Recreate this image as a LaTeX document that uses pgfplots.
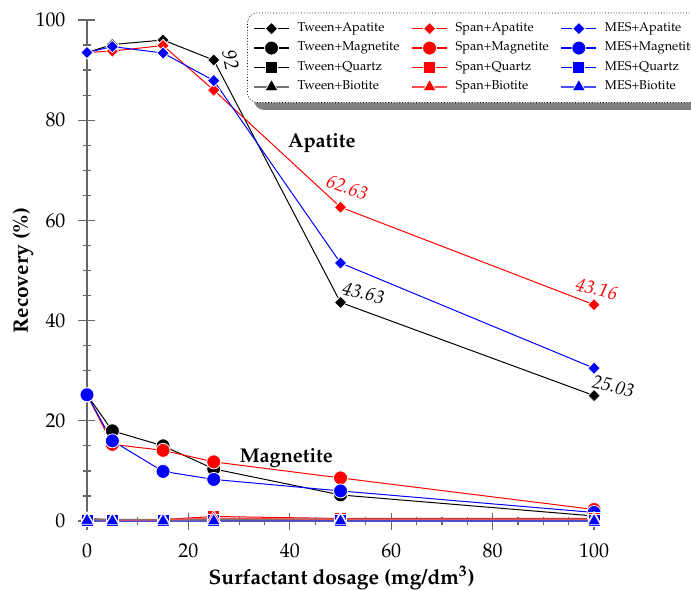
\documentclass[border=0pt]{standalone}
\usepackage[T1]{fontenc}
\usepackage{mathpazo}
\usepackage{pgfplots}
\pgfplotsset{compat=1.18}

\pgfplotstableread{
x  y
0   93.5
5   95.1
15  96.0
25  92.0
50  43.63
100 25.03
}\tweenapa
\pgfplotstableread{
x  y
0   93.5
5   93.8
15  94.9
25  86.0
50  62.63
100 43.16
}\spanapa
\pgfplotstableread{
x  y
0   93.5
5   94.7
15  93.4
25  87.9
50  51.5
100 30.5
}\mesapa
\pgfplotstableread{
x  y
0   25.2
5   18.0
15  15.0
25  10.4
50  5.2
100 1.0
}\tweenmag
\pgfplotstableread{
x  y
0   25.2
5   15.3
15  14.1
25  11.8
50  8.6
100 2.3
}\spanmag
\pgfplotstableread{
x  y
0   25.2
5   16.0
15  9.9
25  8.3
50  6.0
100 1.7
}\mesmag
\pgfplotstableread{
x  y
0   0.5
5   0.2
15  0.2
25  0.4
50  0.3
100 0.3
}\tweenqua
\pgfplotstableread{
x  y
0   0.3
5   0.2
15  0.3
25  0.9
50  0.5
100 0.5
}\spanqua
\pgfplotstableread{
x  y
0   0.2
5   0.1
15  0.1
25  0.2
50  0.1
100 0.1
}\mesqua
\pgfplotstableread{
x  y
0   0.3
5   0.2
15  0.2
25  0.3
50  0.3
100 0.3
}\tweenbio
\pgfplotstableread{
x  y
0   0.2
5   0.1
15  0.2
25  0.6
50  0.3
100 0.3
}\spanbio
\pgfplotstableread{
x  y
0   0.1
5   0.0
15  0.0
25  0.0
50  0.0
100 0.0
}\mesbio

\begin{document}
\begin{tikzpicture}
% legend shadow (behind the legend box)
\fill[black!50, rounded corners=5bp] (83.5bp,205.5bp) rectangle (330bp,240bp);
\begin{axis}[
  scale only axis, width=254.8bp, height=250.5bp,
  xmin=0, xmax=100.5, ymin=0, ymax=100,
  axis x line=bottom, axis y line=left,
  axis line style={-, draw=black!60, line width=0.7bp},
  xtick={0,20,...,100}, ytick={0,20,...,100},
  minor x tick num=3, minor y tick num=3,
  tick align=center, major tick length=8.5bp, minor tick length=4bp,
  tick style={black!60, line width=0.6bp},
  clip=false,
  ticklabel style={font=\fontsize{10}{12}\selectfont},
  xticklabel style={yshift=-3.5bp},
  yticklabel style={xshift=-3bp},
  xlabel={\textbf{Surfactant dosage (mg/dm\textsuperscript{3})}},
  ylabel={\textbf{Recovery (\%)}},
  label style={font=\fontsize{10.5}{12}\selectfont},
  x label style={at={([yshift=-28.5bp]axis description cs:0.5,0)}, anchor=center},
  y label style={at={([xshift=-32bp]axis description cs:0,0.5)}, anchor=center},
  every axis plot/.append style={solid, line width=0.5bp},
  legend columns=3,
  legend cell align=left,
  legend image code/.code={%
    \draw[line width=0.6bp, mark repeat=2, mark phase=2]
      plot coordinates {(0bp,0bp) (8.75bp,0bp) (17.5bp,0bp)};},
  legend style={at={(axis cs:31.56,83.43)}, anchor=south west,
    draw=black, densely dotted, rounded corners=5bp, fill=white,
    inner sep=3bp, row sep=0bp,
    font=\fontsize{6.4}{7.5}\selectfont,
    nodes={inner xsep=0bp, inner ysep=1.9bp},
    /tikz/every odd column/.append style={column sep=4bp},
    /tikz/every even column/.append style={column sep=6bp}},
  dmark/.style={mark=square*, mark size=2.2bp, mark options={solid, sharp corners, rotate=45, fill=#1, draw=white, line width=0.4bp}},
  cmark/.style={mark=*, mark size=3.5bp, mark options={solid, sharp corners, fill=#1, draw=white, line width=0.4bp}},
  smark/.style={mark=square*, mark size=3bp, mark options={solid, sharp corners, fill=#1, draw=white, line width=0.4bp}},
  tmark/.style={mark=triangle*, mark size=3.8bp, mark options={solid, sharp corners, fill=#1, draw=white, line width=0.4bp}},
]
\addplot[black, dmark=black] table {\tweenapa};
\addlegendentry{Tween+Apatite}
\addplot[red, dmark=red] table {\spanapa};
\addlegendentry{Span+Apatite}
\addplot[blue, dmark=blue] table {\mesapa};
\addlegendentry{MES+Apatite}
\addplot[black, cmark=black] table {\tweenmag};
\addlegendentry{Tween+Magnetite}
\addplot[red, cmark=red] table {\spanmag};
\addlegendentry{Span+Magnetite}
\addplot[blue, cmark=blue] table {\mesmag};
\addlegendentry{MES+Magnetite}
\addplot[black, smark=black] table {\tweenqua};
\addlegendentry{Tween+Quartz}
\addplot[red, smark=red] table {\spanqua};
\addlegendentry{Span+Quartz}
\addplot[blue, smark=blue] table {\mesqua};
\addlegendentry{MES+Quartz}
\addplot[black!55, line width=1.2bp, tmark=black] table {\tweenbio};
\addlegendentry{Tween+Biotite}
\addplot[red!70, tmark=red] table {\spanbio};
\addlegendentry{Span+Biotite}
\addplot[blue!70, tmark=blue] table {\mesbio};
\addlegendentry{MES+Biotite}

\node[font=\fontsize{10}{12}\selectfont\itshape, rotate=-78] at (axis cs:28.3,92) {92};
\node[font=\fontsize{9.5}{12}\selectfont\itshape, rotate=-14] at (axis cs:54.5,45.5) {43.63};
\node[font=\fontsize{9.5}{12}\selectfont\itshape, rotate=-14] at (axis cs:103.8,26.9) {25.03};
\node[font=\fontsize{9.5}{12}\selectfont\itshape, rotate=-20, red] at (axis cs:51.3,66.6) {62.63};
\node[font=\fontsize{9.5}{12}\selectfont\itshape, rotate=-14, red] at (axis cs:100.5,46.3) {43.16};
\node[font=\fontsize{10}{12}\selectfont\bfseries] at (axis cs:46.3,75.5) {Apatite};
\node[font=\fontsize{10}{12}\selectfont\bfseries] at (axis cs:39.3,12.6) {Magnetite};
\end{axis}
\pgfresetboundingbox
\useasboundingbox (-43.5bp,-34.5bp) rectangle (302bp,260.5bp);
\end{tikzpicture}
\end{document}
